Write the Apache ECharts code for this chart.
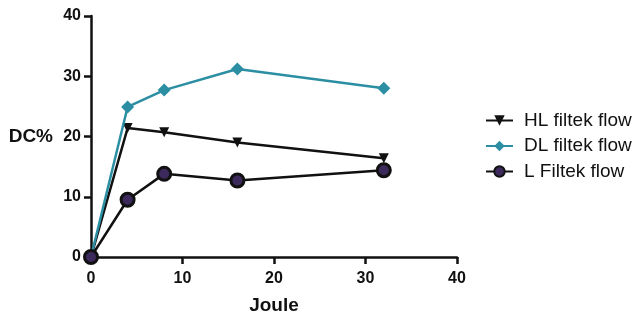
<!DOCTYPE html>
<html>
<head>
<meta charset="utf-8">
<script src="https://cdn.jsdelivr.net/npm/echarts@6/dist/echarts.min.js"></script>
<style>
html,body{margin:0;padding:0;background:#fff;}
#chart{width:635px;height:320px;}
</style>
</head>
<body>
<div id="chart"></div>
<script>
// Curing energy (J) and degree of conversion (%) for three composites
const joule = [0, 4, 8, 16, 32];
const hlFiltek = [0, 21.4, 20.7, 19.0, 16.4];
const dlFiltek = [0, 24.9, 27.7, 31.2, 28.0];
const lFiltek = [0, 9.5, 13.8, 12.7, 14.4];
const seriesNames = ['HL filtek flow', 'DL filtek flow', 'L Filtek flow'];

const pairs = (ys) => joule.map((x, i) => [x, ys[i]]);

const font = 'Liberation Sans, Arial, sans-serif';
const axisLine = { show: true, lineStyle: { color: '#111', width: 2.5 } };
const axisTick = { show: true, length: 7, lineStyle: { color: '#111', width: 2.5 } };
const tickLabel = { color: '#111', fontSize: 16, fontWeight: 'bold', fontFamily: font };

const chart = echarts.init(document.getElementById('chart'));
chart.setOption({
  animation: false,
  backgroundColor: '#fff',
  grid: { left: 91, right: 178, top: 16, bottom: 60, containLabel: false },
  xAxis: {
    type: 'value', min: 0, max: 40, interval: 10,
    name: 'Joule', nameLocation: 'middle', nameGap: 39,
    nameTextStyle: { color: '#111', fontSize: 19, fontWeight: 'bold', fontFamily: font },
    axisLine, axisTick, splitLine: { show: false },
    axisLabel: Object.assign({ margin: 14 }, tickLabel)
  },
  yAxis: {
    type: 'value', min: 0, max: 40, interval: 10,
    name: 'DC%', nameLocation: 'middle', nameRotate: 0, nameGap: 38,
    nameTextStyle: { color: '#111', fontSize: 19, fontWeight: 'bold', fontFamily: font, align: 'right', verticalAlign: 'middle' },
    axisLine, axisTick, splitLine: { show: false },
    axisLabel: Object.assign({ margin: 10 }, tickLabel)
  },
  legend: {
    orient: 'vertical', left: 480, top: 106, itemGap: 6.5,
    itemWidth: 27, itemHeight: 13,
    textStyle: { color: '#111', fontSize: 19, lineHeight: 19, fontFamily: font, padding: [0, 0, 0, 6] },
    data: seriesNames
  },
  series: [
    {
      name: seriesNames[0], type: 'line', data: pairs(hlFiltek),
      symbol: 'triangle', symbolRotate: 180, symbolSize: 10,
      lineStyle: { color: '#111', width: 2.5 },
      itemStyle: { color: '#111', borderColor: '#111', borderWidth: 0 },
      z: 2
    },
    {
      name: seriesNames[1], type: 'line', data: pairs(dlFiltek),
      symbol: 'diamond', symbolSize: 13,
      lineStyle: { color: '#2b8ea3', width: 2.5 },
      itemStyle: { color: '#2b8ea3', borderWidth: 0 },
      z: 3
    },
    {
      name: seriesNames[2], type: 'line', data: pairs(lFiltek),
      symbol: 'circle', symbolSize: 13,
      lineStyle: { color: '#111', width: 2.5 },
      itemStyle: { color: '#3d2a5c', borderColor: '#111', borderWidth: 3 },
      z: 4
    }
  ]
});
</script>
</body>
</html>
